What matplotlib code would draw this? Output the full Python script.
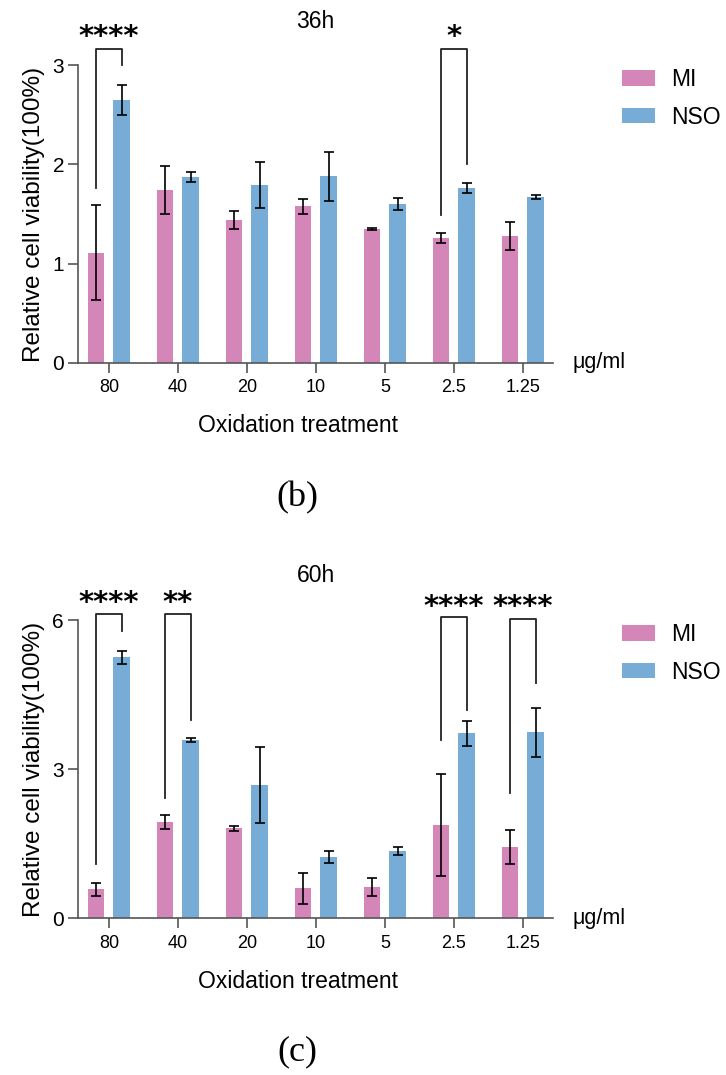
import matplotlib.pyplot as plt
import numpy as np

plt.rcParams['font.family'] = ['Liberation Sans', 'DejaVu Sans']

doses = ['80', '40', '20', '10', '5', '2.5', '1.25']

# 36h
mi_36 = [1.11, 1.74, 1.44, 1.58, 1.35, 1.26, 1.28]
mi_36_err = [0.48, 0.24, 0.09, 0.075, 0.01, 0.05, 0.14]
nso_36 = [2.65, 1.87, 1.79, 1.88, 1.60, 1.76, 1.67]
nso_36_err = [0.15, 0.05, 0.23, 0.245, 0.06, 0.05, 0.02]
sig_36_pos = [0, 5]
sig_36_top = [3.16, 3.16]
sig_36_left = [1.76, 1.49]
sig_36_right = [3.0, 2.0]
sig_36_star = [3.20, 3.20]
sig_36_txt = ['****', '*']

# 60h
mi_60 = [0.58, 1.94, 1.81, 0.60, 0.63, 1.88, 1.43]
mi_60_err = [0.125, 0.145, 0.055, 0.32, 0.19, 1.03, 0.34]
nso_60 = [5.25, 3.59, 2.68, 1.23, 1.35, 3.72, 3.74]
nso_60_err = [0.13, 0.035, 0.77, 0.125, 0.08, 0.25, 0.50]
sig_60_pos = [0, 1, 5, 6]
sig_60_top = [6.12, 6.12, 6.06, 6.02]
sig_60_left = [1.09, 2.41, 3.59, 2.53]
sig_60_right = [5.77, 3.99, 4.19, 4.73]
sig_60_star = [6.18, 6.18, 6.10, 6.10]
sig_60_txt = ['****', '**', '****', '****']

pink = '#D486B8'
blue = '#77ACD7'
axcol = '#555555'

W, H = 726, 1075
fig = plt.figure(figsize=(W / 100, H / 100), dpi=100)

x = np.arange(len(doses))
bw = 0.246
off = 0.188


def panel(bottom_px, top_px, ymax, yticks, mi, mie, nso, nsoe,
          spos, stop, sleft, sright, sstar, stxt, title, leg_y):
    ax = fig.add_axes([78 / W, 1 - bottom_px / H, 475 / W, (bottom_px - top_px) / H])
    ax.bar(x - off, mi, bw, color=pink, label='MI')
    ax.bar(x + off, nso, bw, color=blue, label='NSO')
    ax.errorbar(x - off, mi, yerr=mie, fmt='none', ecolor='black',
                elinewidth=1.2, capsize=3.5, capthick=1.2)
    ax.errorbar(x + off, nso, yerr=nsoe, fmt='none', ecolor='black',
                elinewidth=1.2, capsize=3.5, capthick=1.2)
    ax.set_xlim(-0.449, 6.435)
    ax.set_ylim(0, ymax)
    ax.set_yticks(yticks)
    ax.set_xticks(x)
    ax.set_xticklabels(doses)
    for s in ['top', 'right']:
        ax.spines[s].set_visible(False)
    for s in ['left', 'bottom']:
        ax.spines[s].set_color(axcol)
        ax.spines[s].set_linewidth(1.2)
    ax.tick_params(axis='x', length=7, width=1.2, color=axcol, pad=5, labelsize=13)
    ax.tick_params(axis='y', length=7, width=1.2, color=axcol, pad=3, labelsize=15)
    ax.set_ylabel('Relative cell viability(100%)', fontsize=17.5, labelpad=5)

    for p, t, l, r, sy, s in zip(spos, stop, sleft, sright, sstar, stxt):
        ax.plot([p - off, p - off, p + off, p + off], [l, t, t, r],
                color='#222222', lw=1.3, clip_on=False)
        ax.text(p, sy, s, ha='center', va='baseline', fontsize=21,
                fontweight='bold', family='DejaVu Sans', clip_on=False)

    ax.text(0.5, (bottom_px - title[1]) / (bottom_px - top_px), title[0],
            transform=ax.transAxes, ha='center', va='center', fontsize=16.5)
    ax.text(0.463, -(title[2] - bottom_px) / (bottom_px - top_px),
            'Oxidation treatment', transform=ax.transAxes,
            ha='center', va='center', fontsize=16.5)
    ax.text(1.042, 0, 'μg/ml', transform=ax.get_yaxis_transform(),
            ha='left', va='center', fontsize=15.5)
    ax.legend(loc='upper left', bbox_to_anchor=(622 / W, 1 - leg_y / H),
              bbox_transform=fig.transFigure, frameon=False, fontsize=16.5,
              handlelength=1.45, handleheight=0.65, handletextpad=0.7,
              labelspacing=0.65, borderpad=0, borderaxespad=0)
    return ax


panel(362.7, 65.3, 3, [0, 1, 2, 3], mi_36, mi_36_err, nso_36, nso_36_err,
      sig_36_pos, sig_36_top, sig_36_left, sig_36_right, sig_36_star, sig_36_txt,
      ('36h', 22, 425), 68)
panel(918.3, 620, 6, [0, 3, 6], mi_60, mi_60_err, nso_60, nso_60_err,
      sig_60_pos, sig_60_top, sig_60_left, sig_60_right, sig_60_star, sig_60_txt,
      ('60h', 575, 982), 623)

fig.text(297 / W, 1 - 498 / H, '(b)', ha='center', va='center',
         fontsize=26, family='Liberation Serif')
fig.text(297 / W, 1 - 1052 / H, '(c)', ha='center', va='center',
         fontsize=26, family='Liberation Serif')

fig.savefig('out.png', dpi=100)
